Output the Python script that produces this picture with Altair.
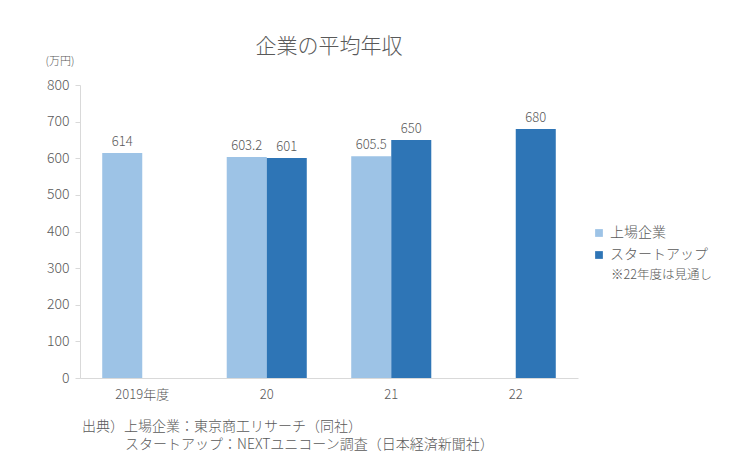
import altair as alt
import pandas as pd

years = ["2019年度", "20", "21", "22"]
series = ["上場企業", "スタートアップ"]
listed = [614, 603.2, 605.5, None]
startup = [None, 601, 650, 680]
listed_labels = ["614", "603.2", "605.5", ""]
startup_labels = ["", "601", "650", "680"]
colors = ["#9DC3E6", "#2E75B6"]

rows = []
for i, y in enumerate(years):
    rows.append({"year": y, "series": series[0], "value": listed[i], "label": listed_labels[i]})
    rows.append({"year": y, "series": series[1], "value": startup[i], "label": startup_labels[i]})
df = pd.DataFrame(rows)

FONT = "Noto Sans CJK JP"
GRAY = "#595959"

x_enc = alt.X("year:N", sort=years, title=None,
              scale=alt.Scale(paddingInner=0.357, paddingOuter=0.1785),
              axis=alt.Axis(labelAngle=0, ticks=False, domainColor="#D9D9D9",
                            labelColor=GRAY, labelFontSize=13, labelPadding=10, labelFont=FONT,
                            labelFontWeight=300))
y_enc = alt.Y("value:Q", title=None,
              scale=alt.Scale(domain=[0, 800]),
              axis=alt.Axis(values=list(range(0, 801, 100)), grid=False, domainColor="#D9D9D9",
                            tickColor="#D9D9D9", tickSize=5, labelColor=GRAY, labelFontSize=14,
                            labelPadding=6, labelFont=FONT, labelOverlap=False,
                            labelFontWeight=300))
off = alt.XOffset("series:N", sort=series, scale=alt.Scale(paddingInner=0, paddingOuter=0))

base = alt.Chart(df).encode(x=x_enc, xOffset=off, y=y_enc).transform_filter("datum.value != null")

bars = base.mark_bar().encode(
    color=alt.Color("series:N", sort=series, scale=alt.Scale(domain=series, range=colors),
                    legend=alt.Legend(title=None, orient="none", legendX=512, legendY=141,
                                      symbolType="square", symbolSize=60, labelFontSize=14,
                                      labelColor=GRAY, labelFont=FONT, rowPadding=8,
                                      labelFontWeight=300, symbolStrokeWidth=0)),
)

labels = base.mark_text(dy=-11, fontSize=13, color=GRAY, font=FONT, fontWeight=300).encode(
    text="label:N",
)

annot = pd.DataFrame({"t": ["企業の平均年収", "(万円)", "※22年度は見通し",
                            "出典）上場企業：東京商工リサーチ（同社）",
                            "スタートアップ：NEXTユニコーン調査（日本経済新聞社）"],
                      "x": [249, -20, 531, 2, 45],
                      "y": [-38, -23, 190, 49, 67],
                      "s": [21, 11, 12.5, 14, 14],
                      "a": ["center", "center", "left", "left", "left"]})

def txt(i):
    r = annot.iloc[i]
    return alt.Chart(annot.iloc[[i]]).mark_text(
        fontSize=float(r.s), color=GRAY, font=FONT, align=r.a, baseline="middle",
        fontWeight=300,
    ).encode(text="t:N", x=alt.value(float(r.x)),
             y=alt.value(float(r.y) if r.y < 0 or i == 2 else 293 + float(r.y)))

texts = [txt(i) for i in range(len(annot))]

chart = alt.layer(bars, labels, *texts).properties(
    width=498, height=293,
    padding={"left": 80, "top": 85, "right": 167, "bottom": 94},
    autosize=alt.AutoSizeParams(type="none"),
    background="white",
).configure_view(stroke=None)

chart.save("out.html", embed_options={"renderer": "svg", "actions": False})
